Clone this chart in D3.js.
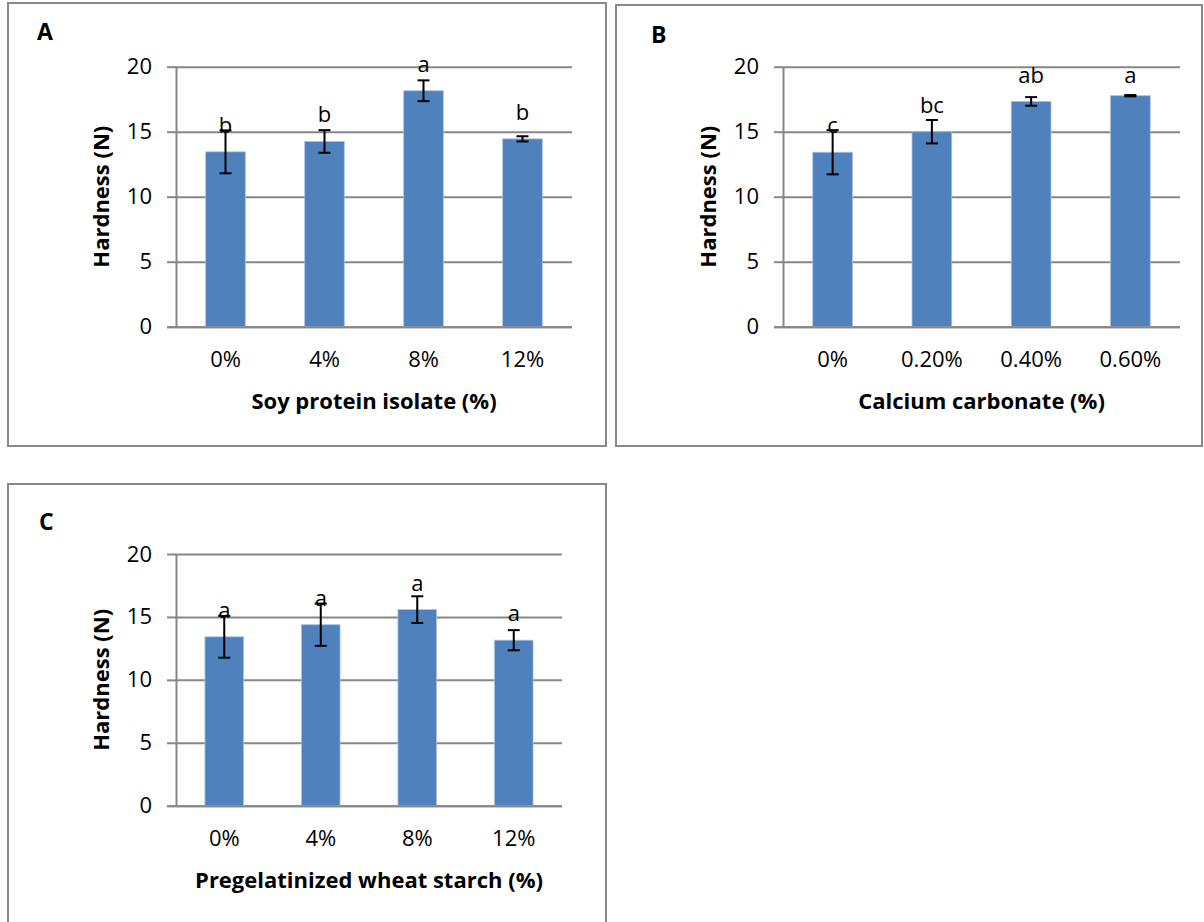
<!DOCTYPE html>
<html>
<head>
<meta charset="utf-8">
<script src="https://cdn.jsdelivr.net/npm/d3@7"></script>
<style>
  body { margin: 0; background: #fff; }
  svg text { font-family: "Open Sans", Lato, sans-serif; fill: #000; }
</style>
</head>
<body>
<svg id="chart" width="1204" height="922"></svg>
<script>
// panel A - soy protein isolate
const catsA = ["0%", "4%", "8%", "12%"];
const meanA = [13.45, 14.25, 18.15, 14.45];
const errA = [1.65, 0.87, 0.8, 0.2];
const letterA = ["b", "b", "a", "b"];

// panel B - calcium carbonate
const catsB = ["0%", "0.20%", "0.40%", "0.60%"];
const meanB = [13.42, 15.0, 17.33, 17.77];
const errB = [1.7, 0.9, 0.33, 0.05];
const letterB = ["c", "bc", "ab", "a"];

// panel C - pregelatinized wheat starch
const catsC = ["0%", "4%", "8%", "12%"];
const meanC = [13.42, 14.38, 15.58, 13.15];
const errC = [1.66, 1.68, 1.06, 0.8];
const letterC = ["a", "a", "a", "a"];

const yTicks = [0, 5, 10, 15, 20];

const svg = d3.select("#chart");

function drawPanel(opt){
  const g = svg.append("g");

  // outer frame of the excel chart object
  g.append("rect")
    .attr("x", opt.frame[0]).attr("y", opt.frame[1])
    .attr("width", opt.frame[2]).attr("height", opt.frame[3])
    .attr("fill", "#fff").attr("stroke", "#898989").attr("stroke-width", 2);

  g.append("text")
    .attr("x", opt.tagPos[0]).attr("y", opt.tagPos[1])
    .attr("font-size", 23).attr("font-weight", "bold")
    .text(opt.tag);

  const x = d3.scaleBand().domain(opt.cats)
    .range([opt.left, opt.right]).paddingInner(0.6).paddingOuter(0.3);
  const y = d3.scaleLinear().domain([0, 20]).range([opt.bottom, opt.top]);
  const w = opt.right - opt.left;

  // gridlines
  g.append("g").attr("transform", `translate(${opt.left},0)`)
    .call(d3.axisLeft(y).tickValues(yTicks).tickSize(-w).tickFormat(""))
    .call(a => a.select(".domain").remove())
    .call(a => a.selectAll("line").attr("stroke", "#878787").attr("stroke-width", 2));

  // y axis with outside ticks
  g.append("g").attr("transform", `translate(${opt.left},0)`)
    .call(d3.axisLeft(y).tickValues(yTicks).tickSize(9).tickSizeOuter(0).tickPadding(15))
    .call(a => a.select(".domain").attr("stroke", "#878787").attr("stroke-width", 2))
    .call(a => a.selectAll("line").attr("stroke", "#878787").attr("stroke-width", 2))
    .call(a => a.selectAll("text").attr("font-size", 22).attr("font-family", "Open Sans"));

  // bars
  g.selectAll(".bar").data(opt.means).join("rect")
    .attr("class", "bar")
    .attr("x", (d, i) => x(opt.cats[i]))
    .attr("y", d => y(d))
    .attr("width", x.bandwidth())
    .attr("height", d => y(0) - y(d))
    .attr("fill", "#4f81bd")
    .attr("stroke", "#a9c0e0").attr("stroke-width", 0.8);

  // x axis
  g.append("g").attr("transform", `translate(0,${opt.bottom})`)
    .call(d3.axisBottom(x).tickSize(0).tickPadding(25))
    .call(a => a.select(".domain").attr("stroke", "#878787").attr("stroke-width", 2)
      .attr("d", `M${opt.left - 9},0.5H${opt.right}`))
    .call(a => a.selectAll("text").attr("font-size", 22).attr("font-family", "Open Sans"));

  // error bars
  const eb = g.selectAll(".err").data(opt.means).join("g").attr("class", "err")
    .attr("stroke", "#000").attr("stroke-width", 2);
  eb.append("line")
    .attr("x1", (d, i) => x(opt.cats[i]) + x.bandwidth() / 2)
    .attr("x2", (d, i) => x(opt.cats[i]) + x.bandwidth() / 2)
    .attr("y1", (d, i) => y(d + opt.errs[i]))
    .attr("y2", (d, i) => y(d - opt.errs[i]));
  [1, -1].forEach(function(s){
    eb.append("line")
      .attr("x1", (d, i) => x(opt.cats[i]) + x.bandwidth() / 2 - 6)
      .attr("x2", (d, i) => x(opt.cats[i]) + x.bandwidth() / 2 + 6)
      .attr("y1", (d, i) => y(d + s * opt.errs[i]))
      .attr("y2", (d, i) => y(d + s * opt.errs[i]));
  });

  // significance letters, excel keeps them a few px inside the plot top
  g.selectAll(".lbl").data(opt.means).join("text")
    .attr("class", "lbl")
    .attr("x", (d, i) => x(opt.cats[i]) + x.bandwidth() / 2)
    .attr("y", d => Math.max(y(d) - 19, opt.labelMin || 0))
    .attr("text-anchor", "middle")
    .attr("font-size", 22)
    .text((d, i) => opt.letters[i]);

  // axis titles
  g.append("text")
    .attr("x", (opt.left + opt.right) / 2).attr("y", opt.bottom + 82)
    .attr("text-anchor", "middle").attr("font-size", 22).attr("font-weight", "bold")
    .text(opt.xTitle);

  g.append("text")
    .attr("transform", `translate(${opt.left - 67},${(opt.top + opt.bottom) / 2}) rotate(-90)`)
    .attr("text-anchor", "middle").attr("font-size", 22).attr("font-weight", "bold")
    .text("Hardness (N)");
}

drawPanel({tag: "A", tagPos: [37, 40], frame: [8, 3, 598, 443],
  left: 176, right: 572, top: 66.7, bottom: 326.7,
  cats: catsA, means: meanA, errs: errA, letters: letterA, xTitle: "Soy protein isolate (%)"});

drawPanel({tag: "B", tagPos: [651, 43], frame: [616, 5, 586, 441],
  left: 783, right: 1180, top: 66.7, bottom: 326.7, labelMin: 83,
  cats: catsB, means: meanB, errs: errB, letters: letterB, xTitle: "Calcium carbonate (%)"});

drawPanel({tag: "C", tagPos: [39, 530], frame: [8, 484, 598, 450],
  left: 176, right: 562, top: 554, bottom: 805.7,
  cats: catsC, means: meanC, errs: errC, letters: letterC, xTitle: "Pregelatinized wheat starch (%)"});
</script>
</body>
</html>
